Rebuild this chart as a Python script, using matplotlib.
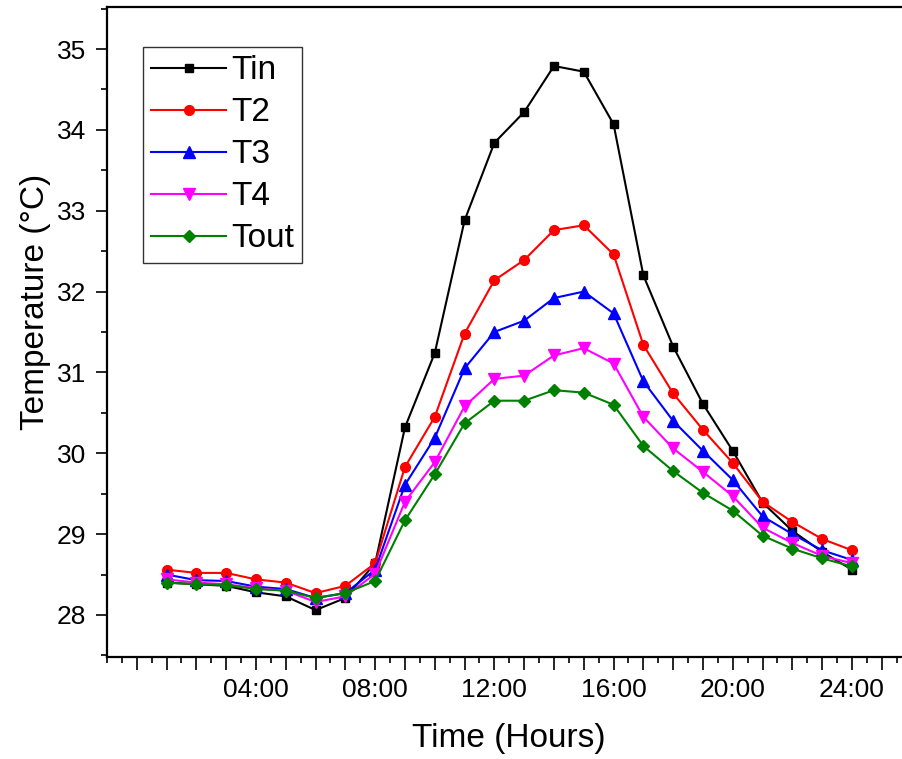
import numpy as np
import matplotlib
matplotlib.use("Agg")
import matplotlib.pyplot as plt
from matplotlib.ticker import FixedLocator, MultipleLocator, FuncFormatter

plt.rcParams['font.family'] = ['Liberation Sans', 'DejaVu Sans']

# hourly readings (hour 1 .. 24)
hours = np.arange(1, 25)
t_in = [28.40, 28.38, 28.36, 28.28, 28.23, 28.06, 28.21, 28.64, 30.32, 31.24, 32.88, 33.84,
        34.22, 34.79, 34.72, 34.07, 32.20, 31.32, 30.61, 30.03, 29.39, 29.04, 28.78, 28.56]
t_2 = [28.56, 28.52, 28.52, 28.44, 28.40, 28.27, 28.36, 28.64, 29.83, 30.45, 31.48, 32.14,
       32.39, 32.76, 32.82, 32.46, 31.34, 30.74, 30.29, 29.88, 29.40, 29.15, 28.94, 28.80]
t_3 = [28.50, 28.43, 28.42, 28.35, 28.32, 28.21, 28.27, 28.56, 29.61, 30.19, 31.05, 31.50,
       31.64, 31.92, 32.00, 31.73, 30.89, 30.40, 30.03, 29.67, 29.22, 29.00, 28.80, 28.68]
t_4 = [28.44, 28.40, 28.38, 28.33, 28.30, 28.16, 28.23, 28.51, 29.40, 29.89, 30.58, 30.92,
       30.96, 31.21, 31.30, 31.11, 30.45, 30.06, 29.77, 29.47, 29.08, 28.89, 28.73, 28.64]
t_out = [28.40, 28.38, 28.37, 28.32, 28.30, 28.21, 28.27, 28.42, 29.17, 29.74, 30.37, 30.65,
         30.65, 30.78, 30.75, 30.60, 30.09, 29.78, 29.51, 29.29, 28.98, 28.82, 28.70, 28.60]

labels = ['Tin', 'T2', 'T3', 'T4', 'Tout']
series = [t_in, t_2, t_3, t_4, t_out]
colors = ['black', 'red', 'blue', 'magenta', 'green']
markers = ['s', 'o', '^', 'v', 'D']
msizes = [6, 7, 8.5, 8.5, 6.5]

fig = plt.figure(figsize=(9.02, 7.59), dpi=100)
ax = fig.add_axes([0.1186, 0.1344, 0.892, 0.8564])

for y, lab, c, m, ms in zip(series, labels, colors, markers, msizes):
    ax.plot(hours, y, color=c, marker=m, markersize=ms, linewidth=1.5, label=lab)

ax.set_xlim(-1, 26)
ax.set_ylim(27.48, 35.52)

# major ticks each hour, labels every 4 hours
ax.xaxis.set_major_locator(FixedLocator(np.arange(0, 26)))
ax.xaxis.set_minor_locator(MultipleLocator(0.5))
ax.xaxis.set_major_formatter(FuncFormatter(
    lambda v, p: f"{int(v):02d}:00" if v > 0 and int(v) % 4 == 0 else ""))
ax.yaxis.set_major_locator(MultipleLocator(1))
ax.yaxis.set_minor_locator(MultipleLocator(0.5))

ax.tick_params(axis='both', which='major', direction='out', width=1.2, labelsize=19)
ax.tick_params(axis='x', which='major', length=9, pad=6)
ax.tick_params(axis='x', which='minor', direction='out', length=4.5, width=1.2)
ax.tick_params(axis='y', which='major', length=8, pad=7)
ax.tick_params(axis='y', which='minor', direction='out', length=4, width=1.2)

for s in ax.spines.values():
    s.set_linewidth(1.6)

ax.set_xlabel('Time (Hours)', fontsize=24, labelpad=15)
ax.set_ylabel('Temperature (°C)', fontsize=24)
ax.yaxis.set_label_coords(-0.07, 0.546)

leg = ax.legend(loc='upper left', bbox_to_anchor=(0.0447, 0.9385), borderaxespad=0,
                fontsize=24, numpoints=1, fancybox=False, edgecolor='black',
                handlelength=2.25, handletextpad=0.15, borderpad=0.25, labelspacing=0.33)
leg.get_frame().set_linewidth(1.0)

fig.savefig('out.png', dpi=100)
